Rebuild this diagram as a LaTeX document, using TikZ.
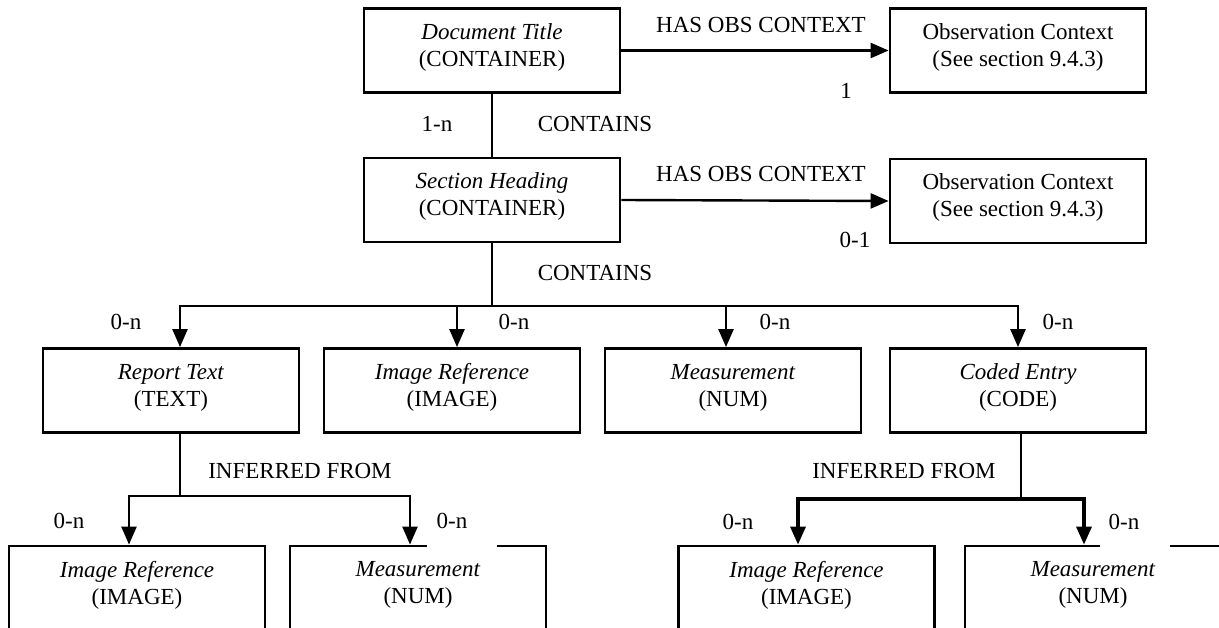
\documentclass[tikz,border=0pt]{standalone}
\usepackage{fontspec}
\setmainfont{Liberation Serif}
\usetikzlibrary{arrows.meta}

\begin{document}
\begin{tikzpicture}[x=1pt, y=-1pt, font=\fontsize{23}{27}\selectfont,
  box/.style={draw, line width=2.8pt, minimum width=256pt, minimum height=84pt, inner sep=0pt, align=center,
    execute at end node={\rule[-11pt]{0pt}{0pt}}},
  lbl/.style={inner sep=0pt},
  link/.style={line width=2.4pt},
  arr/.style={line width=2.4pt, -{Triangle[length=18pt,width=15pt]}},
  gap/.style={lbl, fill=white, minimum width=70pt, minimum height=54pt}]
  \clip (0,0) rectangle (1219,628);
  % containers
  \node[box] (doc)  at (492,50.5)  {\textit{Document Title}\\(CONTAINER)};
  \node[box] (obs1) at (1018,50.5) {Observation Context\\(See section 9.4.3)};
  \node[box] (sec)  at (492,200)   {\textit{Section Heading}\\(CONTAINER)};
  \node[box] (obs2) at (1018,201)  {Observation Context\\(See section 9.4.3)};
  % content items
  \foreach \n/\x/\t/\k in {rpt/171/Report Text/TEXT, img/452/Image Reference/IMAGE,
                           meas/733/Measurement/NUM, code/1018/Coded Entry/CODE}
    \node[box] (\n) at (\x,390.5) {\textit{\t}\\(\k)};
  \foreach \n/\x/\t/\k in {limg/137/Image Reference/IMAGE, lmeas/418/Measurement/NUM,
                           rimg/806.5/Image Reference/IMAGE, rmeas/1093/Measurement/NUM}
    \node[box] (\n) at (\x,588) {\textit{\t}\\(\k)};

  \draw[arr] (doc.east) -- (obs1.west);
  \draw[arr] (sec.east) -- (obs2.west);
  \draw[link] (doc.south) -- (sec.north);

  \coordinate (j1) at (492,306);
  \draw[link] (sec.south) -- (j1);
  \draw[arr] (j1) -| ([xshift=9pt]rpt.north);
  \draw[arr] (j1) -| ([xshift=5pt]img.north);
  \draw[arr] (j1) -| ([xshift=-7pt]meas.north);
  \draw[arr] (j1) -| (code.north);

  \coordinate (j2) at (180,496);
  \draw[link] (rpt.south -| j2) -- (j2);
  \draw[arr] (j2) -| ([xshift=-8pt]limg.north);
  \draw[arr] (j2) -| ([xshift=-8pt]lmeas.north);

  \coordinate (j3) at (1021,499);
  \draw[link] (code.south -| j3) -- (j3);
  \draw[arr, line width=3.4pt] (j3) -| ([xshift=-8.5pt]rimg.north);
  \draw[arr, line width=3.4pt] (j3) -| ([xshift=-9pt]rmeas.north);

  % relation labels
  \node[lbl] (has1) at (761,25)  {HAS OBS CONTEXT};
  \node[lbl] (has2) at (761,174) {HAS OBS CONTEXT};
  \node[lbl] (cn1)  at (595,124) {CONTAINS};
  \node[lbl] (cn2)  at (595,273) {CONTAINS};
  \node[lbl] (inf1) at (300,471) {INFERRED FROM};
  \node[lbl] (inf2) at (904,471) {INFERRED FROM};
  \node[lbl] (m1)   at (846,91)  {1};
  \node[lbl] (m2)   at (855,240) {0-1};
  \node[lbl] (m3)   at (437,124) {1-n};
  \foreach \i/\x in {4/126, 5/514, 6/775, 7/1058}
    \node[lbl] (m\i) at (\x,322) {0-n};
  \node[lbl] (m8)  at (69,521)  {0-n};
  \node[lbl] (m9)  at (738,522) {0-n};
  \node[gap] (m10) at (461.5,521) {0-n\hspace*{19pt}};
  \node[gap] (m11) at (1134.5,522) {0-n\hspace*{21pt}};
\end{tikzpicture}
\end{document}
